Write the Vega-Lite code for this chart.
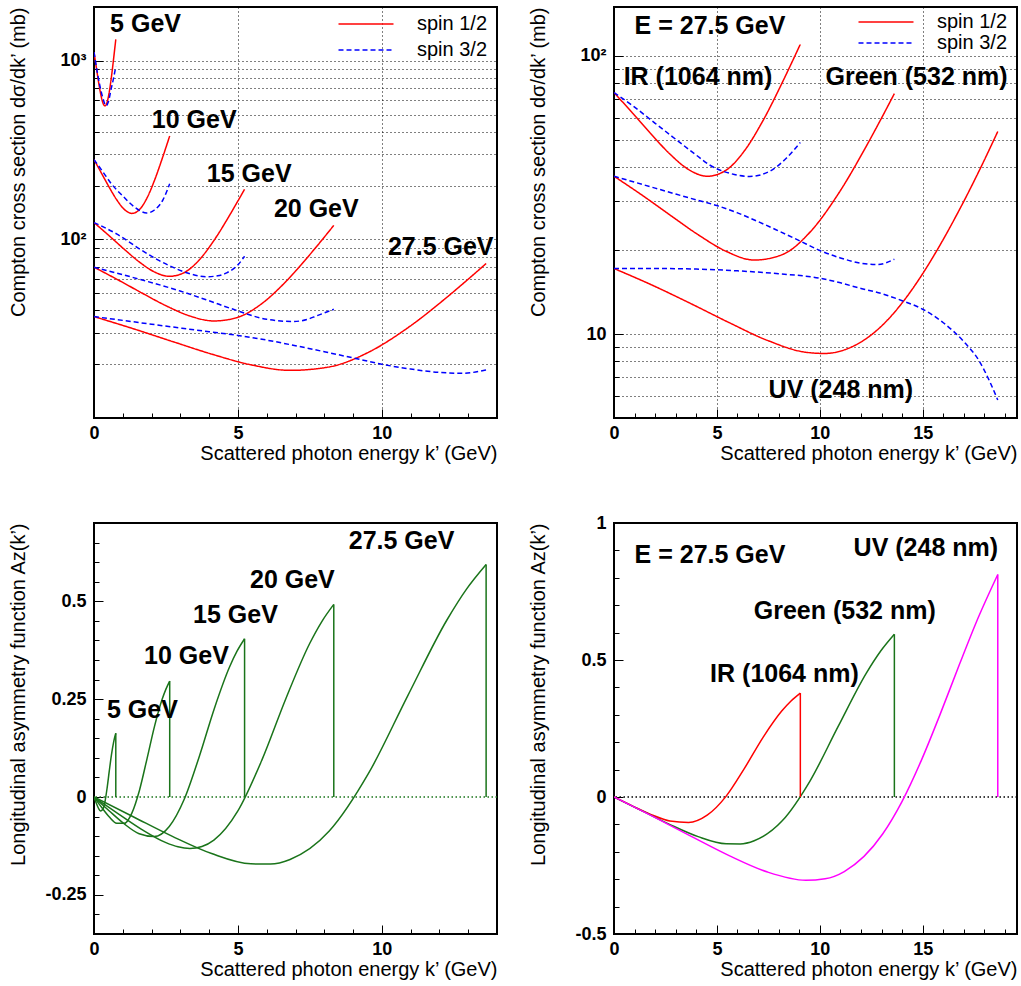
{
"$schema": "https://vega.github.io/schema/vega-lite/v6.json",
"padding": {"left": 6, "top": 6, "right": 0, "bottom": 0},
"background": "white",
"config": {
  "font": "Liberation Sans",
  "view": {"stroke": "black", "strokeWidth": 2},
  "axis": {"domain": false, "tickColor": "black", "tickWidth": 1, "tickCount": 100, "labelFont": "Liberation Sans", "labelFontSize": 18, "labelFontWeight": "bold", "labelColor": "black", "titleFont": "Liberation Sans", "titleFontSize": 20, "titleFontWeight": "normal", "titleColor": "black", "labelOverlap": false, "labelFlush": false, "gridColor": "black", "gridDash": [1, 3], "gridWidth": 1},
  "legend": {"labelFont": "Liberation Sans", "labelFontSize": 20, "labelColor": "black"}
},
"datasets": {
  "xs": [
    {"p":"TL","s":"spin 1/2","c":"5","k":0,"v":1118},{"p":"TL","s":"spin 1/2","c":"5","k":0.0757,"v":928.2},{"p":"TL","s":"spin 1/2","c":"5","k":0.1514,"v":773.5},{"p":"TL","s":"spin 1/2","c":"5","k":0.2272,"v":657.8},{"p":"TL","s":"spin 1/2","c":"5","k":0.3029,"v":584.9},{"p":"TL","s":"spin 1/2","c":"5","k":0.3786,"v":559.1},{"p":"TL","s":"spin 1/2","c":"5","k":0.4543,"v":585.1},{"p":"TL","s":"spin 1/2","c":"5","k":0.53,"v":667.9},{"p":"TL","s":"spin 1/2","c":"5","k":0.6058,"v":813.3},{"p":"TL","s":"spin 1/2","c":"5","k":0.6815,"v":1027.7},{"p":"TL","s":"spin 1/2","c":"5","k":0.7193,"v":1162.8},{"p":"TL","s":"spin 1/2","c":"5","k":0.7572,"v":1317.8},
    {"p":"TL","s":"spin 1/2","c":"10","k":0,"v":279.6},{"p":"TL","s":"spin 1/2","c":"10","k":0.263,"v":234.2},{"p":"TL","s":"spin 1/2","c":"10","k":0.526,"v":196.1},{"p":"TL","s":"spin 1/2","c":"10","k":0.789,"v":166.6},{"p":"TL","s":"spin 1/2","c":"10","k":1.052,"v":147.2},{"p":"TL","s":"spin 1/2","c":"10","k":1.315,"v":139.8},{"p":"TL","s":"spin 1/2","c":"10","k":1.578,"v":146.7},{"p":"TL","s":"spin 1/2","c":"10","k":1.841,"v":170.5},{"p":"TL","s":"spin 1/2","c":"10","k":2.104,"v":214.5},{"p":"TL","s":"spin 1/2","c":"10","k":2.367,"v":282.6},{"p":"TL","s":"spin 1/2","c":"10","k":2.499,"v":327.1},{"p":"TL","s":"spin 1/2","c":"10","k":2.63,"v":379.4},
    {"p":"TL","s":"spin 1/2","c":"15","k":0,"v":124.2},{"p":"TL","s":"spin 1/2","c":"15","k":0.523,"v":104.9},{"p":"TL","s":"spin 1/2","c":"15","k":1.046,"v":88.18},{"p":"TL","s":"spin 1/2","c":"15","k":1.569,"v":74.86},{"p":"TL","s":"spin 1/2","c":"15","k":2.092,"v":65.81},{"p":"TL","s":"spin 1/2","c":"15","k":2.615,"v":62.12},{"p":"TL","s":"spin 1/2","c":"15","k":3.138,"v":65.23},{"p":"TL","s":"spin 1/2","c":"15","k":3.661,"v":76.93},{"p":"TL","s":"spin 1/2","c":"15","k":4.184,"v":99.56},{"p":"TL","s":"spin 1/2","c":"15","k":4.708,"v":136.2},{"p":"TL","s":"spin 1/2","c":"15","k":4.969,"v":160.9},{"p":"TL","s":"spin 1/2","c":"15","k":5.231,"v":190.8},
    {"p":"TL","s":"spin 1/2","c":"20","k":0,"v":69.89},{"p":"TL","s":"spin 1/2","c":"20","k":0.833,"v":59.35},{"p":"TL","s":"spin 1/2","c":"20","k":1.666,"v":50.09},{"p":"TL","s":"spin 1/2","c":"20","k":2.499,"v":42.53},{"p":"TL","s":"spin 1/2","c":"20","k":3.332,"v":37.24},{"p":"TL","s":"spin 1/2","c":"20","k":4.165,"v":34.94},{"p":"TL","s":"spin 1/2","c":"20","k":4.998,"v":36.65},{"p":"TL","s":"spin 1/2","c":"20","k":5.831,"v":43.72},{"p":"TL","s":"spin 1/2","c":"20","k":6.664,"v":58.0},{"p":"TL","s":"spin 1/2","c":"20","k":7.497,"v":82.12},{"p":"TL","s":"spin 1/2","c":"20","k":7.914,"v":98.97},{"p":"TL","s":"spin 1/2","c":"20","k":8.33,"v":119.8},
    {"p":"TL","s":"spin 1/2","c":"27.5","k":0,"v":36.97},{"p":"TL","s":"spin 1/2","c":"27.5","k":1.362,"v":31.62},{"p":"TL","s":"spin 1/2","c":"27.5","k":2.724,"v":26.81},{"p":"TL","s":"spin 1/2","c":"27.5","k":4.087,"v":22.79},{"p":"TL","s":"spin 1/2","c":"27.5","k":5.449,"v":19.86},{"p":"TL","s":"spin 1/2","c":"27.5","k":6.811,"v":18.48},{"p":"TL","s":"spin 1/2","c":"27.5","k":8.173,"v":19.32},{"p":"TL","s":"spin 1/2","c":"27.5","k":9.535,"v":23.33},{"p":"TL","s":"spin 1/2","c":"27.5","k":10.898,"v":31.96},{"p":"TL","s":"spin 1/2","c":"27.5","k":12.26,"v":47.43},{"p":"TL","s":"spin 1/2","c":"27.5","k":12.941,"v":58.75},{"p":"TL","s":"spin 1/2","c":"27.5","k":13.622,"v":73.25},
    {"p":"TL","s":"spin 3/2","c":"5","k":0,"v":1118},{"p":"TL","s":"spin 3/2","c":"5","k":0.1,"v":890},{"p":"TL","s":"spin 3/2","c":"5","k":0.2,"v":730},{"p":"TL","s":"spin 3/2","c":"5","k":0.3,"v":625},{"p":"TL","s":"spin 3/2","c":"5","k":0.42,"v":560},{"p":"TL","s":"spin 3/2","c":"5","k":0.5,"v":590},{"p":"TL","s":"spin 3/2","c":"5","k":0.6,"v":700},{"p":"TL","s":"spin 3/2","c":"5","k":0.68,"v":800},{"p":"TL","s":"spin 3/2","c":"5","k":0.757,"v":929},
    {"p":"TL","s":"spin 3/2","c":"10","k":0,"v":279.6},{"p":"TL","s":"spin 3/2","c":"10","k":0.3,"v":240},{"p":"TL","s":"spin 3/2","c":"10","k":0.6,"v":205},{"p":"TL","s":"spin 3/2","c":"10","k":1.0,"v":175},{"p":"TL","s":"spin 3/2","c":"10","k":1.4,"v":152},{"p":"TL","s":"spin 3/2","c":"10","k":1.83,"v":140.5},{"p":"TL","s":"spin 3/2","c":"10","k":2.1,"v":146},{"p":"TL","s":"spin 3/2","c":"10","k":2.4,"v":167},{"p":"TL","s":"spin 3/2","c":"10","k":2.63,"v":205},
    {"p":"TL","s":"spin 3/2","c":"15","k":0,"v":124.2},{"p":"TL","s":"spin 3/2","c":"15","k":0.8,"v":107},{"p":"TL","s":"spin 3/2","c":"15","k":1.6,"v":88},{"p":"TL","s":"spin 3/2","c":"15","k":2.2,"v":77},{"p":"TL","s":"spin 3/2","c":"15","k":2.64,"v":71},{"p":"TL","s":"spin 3/2","c":"15","k":3.22,"v":65},{"p":"TL","s":"spin 3/2","c":"15","k":3.91,"v":61.8},{"p":"TL","s":"spin 3/2","c":"15","k":4.3,"v":62.5},{"p":"TL","s":"spin 3/2","c":"15","k":4.61,"v":65},{"p":"TL","s":"spin 3/2","c":"15","k":5.0,"v":72},{"p":"TL","s":"spin 3/2","c":"15","k":5.231,"v":80.4},
    {"p":"TL","s":"spin 3/2","c":"20","k":0,"v":69.89},{"p":"TL","s":"spin 3/2","c":"20","k":1.37,"v":61.1},{"p":"TL","s":"spin 3/2","c":"20","k":2.99,"v":51.4},{"p":"TL","s":"spin 3/2","c":"20","k":4.0,"v":45.3},{"p":"TL","s":"spin 3/2","c":"20","k":4.84,"v":40.6},{"p":"TL","s":"spin 3/2","c":"20","k":6.0,"v":35.7},{"p":"TL","s":"spin 3/2","c":"20","k":6.92,"v":34.7},{"p":"TL","s":"spin 3/2","c":"20","k":7.4,"v":35.6},{"p":"TL","s":"spin 3/2","c":"20","k":7.73,"v":37.3},{"p":"TL","s":"spin 3/2","c":"20","k":8.33,"v":40.6},
    {"p":"TL","s":"spin 3/2","c":"27.5","k":0,"v":36.97},{"p":"TL","s":"spin 3/2","c":"27.5","k":1,"v":35.2},{"p":"TL","s":"spin 3/2","c":"27.5","k":2,"v":33.5},{"p":"TL","s":"spin 3/2","c":"27.5","k":3,"v":31.9},{"p":"TL","s":"spin 3/2","c":"27.5","k":4,"v":30.4},{"p":"TL","s":"spin 3/2","c":"27.5","k":5,"v":29.0},{"p":"TL","s":"spin 3/2","c":"27.5","k":6,"v":27.3},{"p":"TL","s":"spin 3/2","c":"27.5","k":7,"v":25.4},{"p":"TL","s":"spin 3/2","c":"27.5","k":8,"v":23.5},{"p":"TL","s":"spin 3/2","c":"27.5","k":9,"v":21.7},{"p":"TL","s":"spin 3/2","c":"27.5","k":10,"v":20.0},{"p":"TL","s":"spin 3/2","c":"27.5","k":11,"v":18.8},{"p":"TL","s":"spin 3/2","c":"27.5","k":12,"v":18.0},{"p":"TL","s":"spin 3/2","c":"27.5","k":12.8,"v":17.8},{"p":"TL","s":"spin 3/2","c":"27.5","k":13.622,"v":18.6},
    {"p":"TR","s":"spin 1/2","c":"IR","k":0,"v":73.93},{"p":"TR","s":"spin 1/2","c":"IR","k":0.905,"v":62.3},{"p":"TR","s":"spin 1/2","c":"IR","k":1.811,"v":52.33},{"p":"TR","s":"spin 1/2","c":"IR","k":2.716,"v":44.43},{"p":"TR","s":"spin 1/2","c":"IR","k":3.621,"v":39.1},{"p":"TR","s":"spin 1/2","c":"IR","k":4.527,"v":36.97},{"p":"TR","s":"spin 1/2","c":"IR","k":5.432,"v":38.81},{"p":"TR","s":"spin 1/2","c":"IR","k":6.337,"v":45.63},{"p":"TR","s":"spin 1/2","c":"IR","k":7.243,"v":58.66},{"p":"TR","s":"spin 1/2","c":"IR","k":8.148,"v":79.5},{"p":"TR","s":"spin 1/2","c":"IR","k":8.601,"v":93.47},{"p":"TR","s":"spin 1/2","c":"IR","k":9.053,"v":110.2},
    {"p":"TR","s":"spin 1/2","c":"Green","k":0,"v":36.97},{"p":"TR","s":"spin 1/2","c":"Green","k":1.362,"v":31.62},{"p":"TR","s":"spin 1/2","c":"Green","k":2.724,"v":26.81},{"p":"TR","s":"spin 1/2","c":"Green","k":4.087,"v":22.79},{"p":"TR","s":"spin 1/2","c":"Green","k":5.449,"v":19.86},{"p":"TR","s":"spin 1/2","c":"Green","k":6.811,"v":18.48},{"p":"TR","s":"spin 1/2","c":"Green","k":8.173,"v":19.32},{"p":"TR","s":"spin 1/2","c":"Green","k":9.535,"v":23.33},{"p":"TR","s":"spin 1/2","c":"Green","k":10.898,"v":31.96},{"p":"TR","s":"spin 1/2","c":"Green","k":12.26,"v":47.43},{"p":"TR","s":"spin 1/2","c":"Green","k":12.941,"v":58.75},{"p":"TR","s":"spin 1/2","c":"Green","k":13.622,"v":73.25},
    {"p":"TR","s":"spin 1/2","c":"UV","k":0,"v":17.23},{"p":"TR","s":"spin 1/2","c":"UV","k":1.865,"v":15.0},{"p":"TR","s":"spin 1/2","c":"UV","k":3.729,"v":12.89},{"p":"TR","s":"spin 1/2","c":"UV","k":5.594,"v":11.01},{"p":"TR","s":"spin 1/2","c":"UV","k":7.458,"v":9.502},{"p":"TR","s":"spin 1/2","c":"UV","k":9.323,"v":8.615},{"p":"TR","s":"spin 1/2","c":"UV","k":10.255,"v":8.529},{"p":"TR","s":"spin 1/2","c":"UV","k":11.188,"v":8.784},{"p":"TR","s":"spin 1/2","c":"UV","k":13.052,"v":10.8},{"p":"TR","s":"spin 1/2","c":"UV","k":13.985,"v":12.92},{"p":"TR","s":"spin 1/2","c":"UV","k":14.917,"v":16.16},{"p":"TR","s":"spin 1/2","c":"UV","k":15.849,"v":20.97},{"p":"TR","s":"spin 1/2","c":"UV","k":16.781,"v":28.01},{"p":"TR","s":"spin 1/2","c":"UV","k":17.714,"v":38.31},{"p":"TR","s":"spin 1/2","c":"UV","k":18.646,"v":53.52},
    {"p":"TR","s":"spin 3/2","c":"IR","k":0,"v":73.93},{"p":"TR","s":"spin 3/2","c":"IR","k":1,"v":65.5},{"p":"TR","s":"spin 3/2","c":"IR","k":2,"v":57.3},{"p":"TR","s":"spin 3/2","c":"IR","k":3,"v":50.2},{"p":"TR","s":"spin 3/2","c":"IR","k":4,"v":44.0},{"p":"TR","s":"spin 3/2","c":"IR","k":4.64,"v":40.6},{"p":"TR","s":"spin 3/2","c":"IR","k":5.61,"v":37.9},{"p":"TR","s":"spin 3/2","c":"IR","k":6.59,"v":36.9},{"p":"TR","s":"spin 3/2","c":"IR","k":7.56,"v":38.5},{"p":"TR","s":"spin 3/2","c":"IR","k":8.37,"v":42.9},{"p":"TR","s":"spin 3/2","c":"IR","k":9.053,"v":48.9},
    {"p":"TR","s":"spin 3/2","c":"Green","k":0,"v":36.97},{"p":"TR","s":"spin 3/2","c":"Green","k":1,"v":35.2},{"p":"TR","s":"spin 3/2","c":"Green","k":2,"v":33.5},{"p":"TR","s":"spin 3/2","c":"Green","k":3,"v":31.9},{"p":"TR","s":"spin 3/2","c":"Green","k":4,"v":30.4},{"p":"TR","s":"spin 3/2","c":"Green","k":5,"v":29.0},{"p":"TR","s":"spin 3/2","c":"Green","k":6,"v":27.3},{"p":"TR","s":"spin 3/2","c":"Green","k":7,"v":25.4},{"p":"TR","s":"spin 3/2","c":"Green","k":8,"v":23.5},{"p":"TR","s":"spin 3/2","c":"Green","k":9,"v":21.7},{"p":"TR","s":"spin 3/2","c":"Green","k":10,"v":20.0},{"p":"TR","s":"spin 3/2","c":"Green","k":11,"v":18.8},{"p":"TR","s":"spin 3/2","c":"Green","k":12,"v":18.0},{"p":"TR","s":"spin 3/2","c":"Green","k":12.8,"v":17.8},{"p":"TR","s":"spin 3/2","c":"Green","k":13.622,"v":18.6},
    {"p":"TR","s":"spin 3/2","c":"UV","k":0,"v":17.23},{"p":"TR","s":"spin 3/2","c":"UV","k":2,"v":17.23},{"p":"TR","s":"spin 3/2","c":"UV","k":4,"v":17.15},{"p":"TR","s":"spin 3/2","c":"UV","k":6,"v":16.9},{"p":"TR","s":"spin 3/2","c":"UV","k":8,"v":16.5},{"p":"TR","s":"spin 3/2","c":"UV","k":10,"v":15.9},{"p":"TR","s":"spin 3/2","c":"UV","k":11,"v":15.3},{"p":"TR","s":"spin 3/2","c":"UV","k":12,"v":14.6},{"p":"TR","s":"spin 3/2","c":"UV","k":13,"v":14.0},{"p":"TR","s":"spin 3/2","c":"UV","k":14,"v":13.2},{"p":"TR","s":"spin 3/2","c":"UV","k":15,"v":12.3},{"p":"TR","s":"spin 3/2","c":"UV","k":16,"v":11.0},{"p":"TR","s":"spin 3/2","c":"UV","k":17,"v":9.4},{"p":"TR","s":"spin 3/2","c":"UV","k":17.75,"v":8.0},{"p":"TR","s":"spin 3/2","c":"UV","k":18.2,"v":6.9},{"p":"TR","s":"spin 3/2","c":"UV","k":18.646,"v":5.8}
  ],
  "asym": [
    {"p":"BL","c":"5","k":0,"v":0},{"p":"BL","c":"5","k":0.0757,"v":-0.015},{"p":"BL","c":"5","k":0.1514,"v":-0.0281},{"p":"BL","c":"5","k":0.2272,"v":-0.0356},{"p":"BL","c":"5","k":0.3029,"v":-0.0321},{"p":"BL","c":"5","k":0.3786,"v":-0.0128},{"p":"BL","c":"5","k":0.4543,"v":0.0224},{"p":"BL","c":"5","k":0.53,"v":0.0659},{"p":"BL","c":"5","k":0.6058,"v":0.1074},{"p":"BL","c":"5","k":0.6815,"v":0.1402},{"p":"BL","c":"5","k":0.7193,"v":0.1527},{"p":"BL","c":"5","k":0.7572,"v":0.1628},
    {"p":"BL","c":"10","k":0,"v":0},{"p":"BL","c":"10","k":0.263,"v":-0.0263},{"p":"BL","c":"10","k":0.526,"v":-0.0504},{"p":"BL","c":"10","k":0.789,"v":-0.067},{"p":"BL","c":"10","k":1.052,"v":-0.0673},{"p":"BL","c":"10","k":1.315,"v":-0.0411},{"p":"BL","c":"10","k":1.578,"v":0.0168},{"p":"BL","c":"10","k":1.841,"v":0.0976},{"p":"BL","c":"10","k":2.104,"v":0.1811},{"p":"BL","c":"10","k":2.367,"v":0.2495},{"p":"BL","c":"10","k":2.499,"v":0.2755},{"p":"BL","c":"10","k":2.63,"v":0.2961},
    {"p":"BL","c":"15","k":0,"v":0},{"p":"BL","c":"15","k":0.523,"v":-0.0351},{"p":"BL","c":"15","k":1.046,"v":-0.0684},{"p":"BL","c":"15","k":1.569,"v":-0.0938},{"p":"BL","c":"15","k":2.092,"v":-0.101},{"p":"BL","c":"15","k":2.615,"v":-0.0753},{"p":"BL","c":"15","k":3.138,"v":-0.0052},{"p":"BL","c":"15","k":3.661,"v":0.1043},{"p":"BL","c":"15","k":4.184,"v":0.227},{"p":"BL","c":"15","k":4.708,"v":0.3321},{"p":"BL","c":"15","k":4.969,"v":0.3725},{"p":"BL","c":"15","k":5.231,"v":0.4043},
    {"p":"BL","c":"20","k":0,"v":0},{"p":"BL","c":"20","k":0.833,"v":-0.0422},{"p":"BL","c":"20","k":1.666,"v":-0.0831},{"p":"BL","c":"20","k":2.499,"v":-0.1166},{"p":"BL","c":"20","k":2.916,"v":-0.1273},{"p":"BL","c":"20","k":3.332,"v":-0.1314},{"p":"BL","c":"20","k":3.749,"v":-0.1266},{"p":"BL","c":"20","k":4.165,"v":-0.1103},{"p":"BL","c":"20","k":4.998,"v":-0.0357},{"p":"BL","c":"20","k":5.831,"v":0.0941},{"p":"BL","c":"20","k":6.664,"v":0.2512},{"p":"BL","c":"20","k":7.497,"v":0.3928},{"p":"BL","c":"20","k":7.914,"v":0.4483},{"p":"BL","c":"20","k":8.33,"v":0.4921},
    {"p":"BL","c":"27.5","k":0,"v":0},{"p":"BL","c":"27.5","k":1.362,"v":-0.0504},{"p":"BL","c":"27.5","k":2.724,"v":-0.1006},{"p":"BL","c":"27.5","k":4.087,"v":-0.1445},{"p":"BL","c":"27.5","k":5.449,"v":-0.1707},{"p":"BL","c":"27.5","k":6.13,"v":-0.1713},{"p":"BL","c":"27.5","k":6.811,"v":-0.1596},{"p":"BL","c":"27.5","k":8.173,"v":-0.087},{"p":"BL","c":"27.5","k":9.535,"v":0.0601},{"p":"BL","c":"27.5","k":10.898,"v":0.2585},{"p":"BL","c":"27.5","k":12.26,"v":0.4522},{"p":"BL","c":"27.5","k":12.941,"v":0.5311},{"p":"BL","c":"27.5","k":13.622,"v":0.594},
    {"p":"BR","c":"IR","k":0,"v":0},{"p":"BR","c":"IR","k":0.905,"v":-0.0331},{"p":"BR","c":"IR","k":1.811,"v":-0.0642},{"p":"BR","c":"IR","k":2.716,"v":-0.0875},{"p":"BR","c":"IR","k":3.621,"v":-0.0928},{"p":"BR","c":"IR","k":4.527,"v":-0.0665},{"p":"BR","c":"IR","k":5.432,"v":0.0013},{"p":"BR","c":"IR","k":6.337,"v":0.1045},{"p":"BR","c":"IR","k":7.243,"v":0.2178},{"p":"BR","c":"IR","k":8.148,"v":0.3136},{"p":"BR","c":"IR","k":8.601,"v":0.3504},{"p":"BR","c":"IR","k":9.053,"v":0.3794},
    {"p":"BR","c":"Green","k":0,"v":0},{"p":"BR","c":"Green","k":1.362,"v":-0.0504},{"p":"BR","c":"Green","k":2.724,"v":-0.1006},{"p":"BR","c":"Green","k":4.087,"v":-0.1445},{"p":"BR","c":"Green","k":5.449,"v":-0.1707},{"p":"BR","c":"Green","k":6.13,"v":-0.1713},{"p":"BR","c":"Green","k":6.811,"v":-0.1596},{"p":"BR","c":"Green","k":8.173,"v":-0.087},{"p":"BR","c":"Green","k":9.535,"v":0.0601},{"p":"BR","c":"Green","k":10.898,"v":0.2585},{"p":"BR","c":"Green","k":12.26,"v":0.4522},{"p":"BR","c":"Green","k":12.941,"v":0.5311},{"p":"BR","c":"Green","k":13.622,"v":0.594},
    {"p":"BR","c":"UV","k":0,"v":0},{"p":"BR","c":"UV","k":1.865,"v":-0.0699},{"p":"BR","c":"UV","k":3.729,"v":-0.1426},{"p":"BR","c":"UV","k":5.594,"v":-0.2138},{"p":"BR","c":"UV","k":7.458,"v":-0.2739},{"p":"BR","c":"UV","k":9.323,"v":-0.3041},{"p":"BR","c":"UV","k":10.255,"v":-0.2984},{"p":"BR","c":"UV","k":11.188,"v":-0.272},{"p":"BR","c":"UV","k":13.052,"v":-0.1351},{"p":"BR","c":"UV","k":13.985,"v":-0.0176},{"p":"BR","c":"UV","k":14.917,"v":0.131},{"p":"BR","c":"UV","k":15.849,"v":0.3024},{"p":"BR","c":"UV","k":16.781,"v":0.4832},{"p":"BR","c":"UV","k":17.714,"v":0.6577},{"p":"BR","c":"UV","k":18.646,"v":0.8122}
  ],
  "drops": [
    {"p":"BL","c":"5","k":0.7572,"v":0.1628},{"p":"BL","c":"10","k":2.63,"v":0.2961},{"p":"BL","c":"15","k":5.231,"v":0.4043},{"p":"BL","c":"20","k":8.33,"v":0.4921},{"p":"BL","c":"27.5","k":13.622,"v":0.594},
    {"p":"BR","c":"IR","k":9.053,"v":0.3794},{"p":"BR","c":"Green","k":13.622,"v":0.594},{"p":"BR","c":"UV","k":18.646,"v":0.8122}
  ],
  "labels": [
    {"p":"TL","t":"5 GeV","k":0.56,"v":1614},{"p":"TL","t":"10 GeV","k":2.01,"v":464},{"p":"TL","t":"15 GeV","k":3.92,"v":233},{"p":"TL","t":"20 GeV","k":6.25,"v":147.6},{"p":"TL","t":"27.5 GeV","k":10.21,"v":90.6},
    {"p":"TR","t":"E = 27.5 GeV","k":1.0,"v":128.4},{"p":"TR","t":"IR (1064 nm)","k":0.47,"v":84.3},{"p":"TR","t":"Green (532 nm)","k":10.28,"v":84.3},{"p":"TR","t":"UV (248 nm)","k":7.51,"v":6.32},
    {"p":"BL","t":"27.5 GeV","k":8.85,"v":0.653},{"p":"BL","t":"20 GeV","k":5.42,"v":0.555},{"p":"BL","t":"15 GeV","k":3.44,"v":0.466},{"p":"BL","t":"10 GeV","k":1.74,"v":0.359},{"p":"BL","t":"5 GeV","k":0.45,"v":0.221},
    {"p":"BR","t":"E = 27.5 GeV","k":1.0,"v":0.882},{"p":"BR","t":"UV (248 nm)","k":11.64,"v":0.909},{"p":"BR","t":"Green (532 nm)","k":6.79,"v":0.678},{"p":"BR","t":"IR (1064 nm)","k":4.67,"v":0.448}
  ]
},
"columns": 2,
"spacing": {"row": 105, "column": 117},
"bounds": "flush",
"resolve": {"scale": {"color": "independent", "strokeDash": "independent"}},
"concat": [
  {
    "width": 403, "height": 411,
    "layer": [
      {
        "data": {"name": "xs"},
        "transform": [{"filter": "datum.p === 'TL'"}],
        "mark": {"type": "line", "interpolate": "monotone", "strokeWidth": 1.5, "clip": true},
        "encoding": {
          "x": {"field": "k", "type": "quantitative", "scale": {"domain": [0, 14], "nice": false, "zero": false},
                "axis": {"title": "Scattered photon energy k’ (GeV)", "values": [0,1,2,3,4,5,6,7,8,9,10,11,12,13,14], "tickCount": 100, "labelOverlap": false,
                         "labelExpr": "datum.value % 5 === 0 ? format(datum.value, 'd') : ''",
                         "tickSize": {"condition": {"test": "datum.value % 5 === 0", "value": -9}, "value": -5},
                         "labelPadding": 15, "grid": true,
                         "gridOpacity": {"condition": {"test": "datum.value % 5 === 0", "value": 1}, "value": 0},
                         "titleAnchor": "end", "titleBaseline": "alphabetic", "titleY": 41}},
          "y": {"field": "v", "type": "quantitative", "scale": {"type": "log", "domain": [10, 2000], "nice": false},
                "axis": {"title": "Compton cross section dσ/dk’ (mb)", "values": [20,30,40,50,60,70,80,90,100,200,300,400,500,600,700,800,900,1000], "tickCount": 100, "labelOverlap": false,
                         "labelExpr": "datum.value === 100 ? '10²' : datum.value === 1000 ? '10³' : ''",
                         "tickSize": {"condition": {"test": "datum.value === 100 || datum.value === 1000", "value": -9}, "value": -5},
                         "labelPadding": 17, "grid": true,
                         "titleAnchor": "end", "titleX": -66, "titleBaseline": "bottom"}},
          "color": {"field": "s", "type": "nominal", "scale": {"domain": ["spin 1/2", "spin 3/2"], "range": ["#ff0000", "#0000ff"]},
                    "legend": {"orient": "none", "legendX": 262, "legendY": 7, "title": null, "symbolType": "M-4.23,0H4.23", "symbolSize": 169, "symbolStrokeWidth": 1.5, "labelOffset": 41, "rowPadding": 6, "padding": 0}},
          "strokeDash": {"field": "s", "type": "nominal", "scale": {"domain": ["spin 1/2", "spin 3/2"], "range": [[1, 0], [5, 3]]},
                    "legend": {"orient": "none", "legendX": 262, "legendY": 7, "title": null, "symbolType": "M-4.23,0H4.23", "symbolSize": 169, "symbolStrokeWidth": 1.5, "labelOffset": 41, "rowPadding": 6, "padding": 0}},
          "detail": {"field": "c"}
        }
      },
      {
        "data": {"name": "labels"},
        "transform": [{"filter": "datum.p === 'TL'"}],
        "mark": {"type": "text", "align": "left", "baseline": "middle", "font": "Liberation Sans", "fontWeight": "bold", "fontSize": 25, "color": "black"},
        "encoding": {"x": {"field": "k", "type": "quantitative"}, "y": {"field": "v", "type": "quantitative"}, "text": {"field": "t"}}
      }
    ]
  },
  {
    "width": 403, "height": 411,
    "layer": [
      {
        "data": {"name": "xs"},
        "transform": [{"filter": "datum.p === 'TR'"}],
        "mark": {"type": "line", "interpolate": "monotone", "strokeWidth": 1.5, "clip": true},
        "encoding": {
          "x": {"field": "k", "type": "quantitative", "scale": {"domain": [0, 19.58], "nice": false, "zero": false},
                "axis": {"title": "Scattered photon energy k’ (GeV)", "values": [0,1,2,3,4,5,6,7,8,9,10,11,12,13,14,15,16,17,18,19], "tickCount": 100, "labelOverlap": false,
                         "labelExpr": "datum.value % 5 === 0 ? format(datum.value, 'd') : ''",
                         "tickSize": {"condition": {"test": "datum.value % 5 === 0", "value": -9}, "value": -5},
                         "labelPadding": 15, "grid": true,
                         "gridOpacity": {"condition": {"test": "datum.value % 5 === 0", "value": 1}, "value": 0},
                         "titleAnchor": "end", "titleBaseline": "alphabetic", "titleY": 41}},
          "y": {"field": "v", "type": "quantitative", "scale": {"type": "log", "domain": [5, 150], "nice": false},
                "axis": {"title": "Compton cross section dσ/dk’ (mb)", "values": [6,7,8,9,10,20,30,40,50,60,70,80,90,100], "tickCount": 100, "labelOverlap": false,
                         "labelExpr": "datum.value === 10 ? '10' : datum.value === 100 ? '10²' : ''",
                         "tickSize": {"condition": {"test": "datum.value === 10 || datum.value === 100", "value": -9}, "value": -5},
                         "labelPadding": 17, "grid": true,
                         "titleAnchor": "end", "titleX": -66, "titleBaseline": "bottom"}},
          "color": {"field": "s", "type": "nominal", "scale": {"domain": ["spin 1/2", "spin 3/2"], "range": ["#ff0000", "#0000ff"]},
                    "legend": {"orient": "none", "legendX": 262, "legendY": 5, "title": null, "symbolType": "M-4.23,0H4.23", "symbolSize": 169, "symbolStrokeWidth": 1.5, "labelOffset": 41, "rowPadding": 1, "padding": 0}},
          "strokeDash": {"field": "s", "type": "nominal", "scale": {"domain": ["spin 1/2", "spin 3/2"], "range": [[1, 0], [5, 3]]},
                    "legend": {"orient": "none", "legendX": 262, "legendY": 5, "title": null, "symbolType": "M-4.23,0H4.23", "symbolSize": 169, "symbolStrokeWidth": 1.5, "labelOffset": 41, "rowPadding": 1, "padding": 0}},
          "detail": {"field": "c"}
        }
      },
      {
        "data": {"name": "labels"},
        "transform": [{"filter": "datum.p === 'TR'"}],
        "mark": {"type": "text", "align": "left", "baseline": "middle", "font": "Liberation Sans", "fontWeight": "bold", "fontSize": 25, "color": "black"},
        "encoding": {"x": {"field": "k", "type": "quantitative"}, "y": {"field": "v", "type": "quantitative"}, "text": {"field": "t"}}
      }
    ]
  },
  {
    "width": 403, "height": 411,
    "layer": [
      {
        "data": {"values": [{}]},
        "mark": {"type": "rule", "color": "#1a741a", "strokeWidth": 1.5, "strokeDash": [1.5, 2.5]},
        "encoding": {"y": {"datum": 0, "type": "quantitative"}}
      },
      {
        "data": {"name": "asym"},
        "transform": [{"filter": "datum.p === 'BL'"}],
        "mark": {"type": "line", "interpolate": "monotone", "strokeWidth": 1.5, "color": "#1a741a", "clip": true},
        "encoding": {
          "x": {"field": "k", "type": "quantitative", "scale": {"domain": [0, 14], "nice": false, "zero": false},
                "axis": {"title": "Scattered photon energy k’ (GeV)", "values": [0,1,2,3,4,5,6,7,8,9,10,11,12,13,14], "tickCount": 100, "labelOverlap": false, "grid": false,
                         "labelExpr": "datum.value % 5 === 0 ? format(datum.value, 'd') : ''",
                         "tickSize": {"condition": {"test": "datum.value % 5 === 0", "value": -9}, "value": -5},
                         "labelPadding": 15,
                         "titleAnchor": "end", "titleBaseline": "alphabetic", "titleY": 41}},
          "y": {"field": "v", "type": "quantitative", "scale": {"domain": [-0.35, 0.7], "nice": false, "zero": false},
                "axis": {"title": "Longitudinal asymmetry function Az(k’)", "values": [-0.3,-0.25,-0.2,-0.15,-0.1,-0.05,0,0.05,0.1,0.15,0.2,0.25,0.3,0.35,0.4,0.45,0.5,0.55,0.6,0.65], "tickCount": 100, "labelOverlap": false, "grid": false,
                         "labelExpr": "datum.value === 0.5 ? '0.5' : datum.value === 0.25 ? '0.25' : datum.value === 0 ? '0' : datum.value === -0.25 ? '-0.25' : ''",
                         "tickSize": {"condition": {"test": "indexof([-0.25, 0, 0.25, 0.5], datum.value) >= 0", "value": -9}, "value": -5},
                         "labelPadding": 17,
                         "titleAnchor": "end", "titleX": -66, "titleBaseline": "bottom"}},
          "detail": {"field": "c"}
        }
      },
      {
        "data": {"name": "drops"},
        "transform": [{"filter": "datum.p === 'BL'"}],
        "mark": {"type": "rule", "strokeWidth": 1.5, "color": "#1a741a"},
        "encoding": {"x": {"field": "k", "type": "quantitative"}, "y": {"field": "v", "type": "quantitative"}, "y2": {"datum": 0}}
      },
      {
        "data": {"name": "labels"},
        "transform": [{"filter": "datum.p === 'BL'"}],
        "mark": {"type": "text", "align": "left", "baseline": "middle", "font": "Liberation Sans", "fontWeight": "bold", "fontSize": 25, "color": "black"},
        "encoding": {"x": {"field": "k", "type": "quantitative"}, "y": {"field": "v", "type": "quantitative"}, "text": {"field": "t"}}
      }
    ]
  },
  {
    "width": 403, "height": 411,
    "layer": [
      {
        "data": {"values": [{}]},
        "mark": {"type": "rule", "color": "black", "strokeWidth": 1.5, "strokeDash": [1.5, 2.5]},
        "encoding": {"y": {"datum": 0, "type": "quantitative"}}
      },
      {
        "data": {"name": "asym"},
        "transform": [{"filter": "datum.p === 'BR'"}],
        "mark": {"type": "line", "interpolate": "monotone", "strokeWidth": 1.5, "clip": true},
        "encoding": {
          "x": {"field": "k", "type": "quantitative", "scale": {"domain": [0, 19.58], "nice": false, "zero": false},
                "axis": {"title": "Scattered photon energy k’ (GeV)", "values": [0,1,2,3,4,5,6,7,8,9,10,11,12,13,14,15,16,17,18,19], "tickCount": 100, "labelOverlap": false, "grid": false,
                         "labelExpr": "datum.value % 5 === 0 ? format(datum.value, 'd') : ''",
                         "tickSize": {"condition": {"test": "datum.value % 5 === 0", "value": -9}, "value": -5},
                         "labelPadding": 15,
                         "titleAnchor": "end", "titleBaseline": "alphabetic", "titleY": 41}},
          "y": {"field": "v", "type": "quantitative", "scale": {"domain": [-0.5, 1], "nice": false, "zero": false},
                "axis": {"title": "Longitudinal asymmetry function Az(k’)", "values": [-0.5,-0.4,-0.3,-0.2,-0.1,0,0.1,0.2,0.3,0.4,0.5,0.6,0.7,0.8,0.9,1], "tickCount": 100, "labelOverlap": false, "grid": false,
                         "labelExpr": "datum.value === 0.5 ? '0.5' : datum.value === 1 ? '1' : datum.value === 0 ? '0' : datum.value === -0.5 ? '-0.5' : ''",
                         "tickSize": {"condition": {"test": "indexof([-0.5, 0, 0.5, 1], datum.value) >= 0", "value": -9}, "value": -5},
                         "labelPadding": 17,
                         "titleAnchor": "end", "titleX": -66, "titleBaseline": "bottom"}},
          "color": {"field": "c", "type": "nominal", "scale": {"domain": ["IR", "Green", "UV"], "range": ["#ff0000", "#1a741a", "#ff00ff"]}, "legend": null},
          "detail": {"field": "c"}
        }
      },
      {
        "data": {"name": "drops"},
        "transform": [{"filter": "datum.p === 'BR'"}],
        "mark": {"type": "rule", "strokeWidth": 1.5},
        "encoding": {"x": {"field": "k", "type": "quantitative"}, "y": {"field": "v", "type": "quantitative"}, "y2": {"datum": 0},
                     "color": {"field": "c", "type": "nominal", "scale": {"domain": ["IR", "Green", "UV"], "range": ["#ff0000", "#1a741a", "#ff00ff"]}, "legend": null}}
      },
      {
        "data": {"name": "labels"},
        "transform": [{"filter": "datum.p === 'BR'"}],
        "mark": {"type": "text", "align": "left", "baseline": "middle", "font": "Liberation Sans", "fontWeight": "bold", "fontSize": 25, "color": "black"},
        "encoding": {"x": {"field": "k", "type": "quantitative"}, "y": {"field": "v", "type": "quantitative"}, "text": {"field": "t"}}
      }
    ]
  }
]
}
